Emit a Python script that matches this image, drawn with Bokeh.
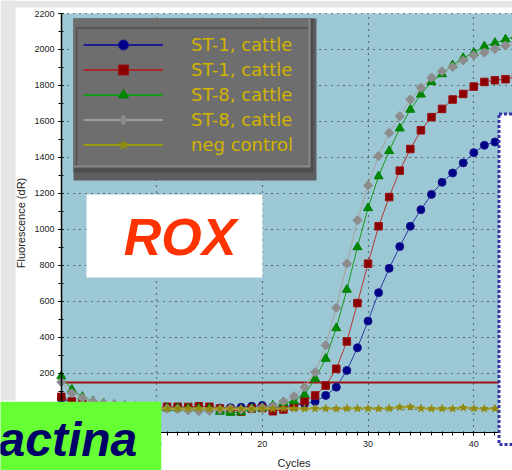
import numpy as np
from bokeh.plotting import figure
from bokeh.models import (Range1d, SingleIntervalTicker, Label, BoxAnnotation, Grid,
                          Legend, LegendItem, ColumnDataSource)
from bokeh.embed import file_html
from bokeh.resources import INLINE

# ---------------- data ----------------
cycles = list(range(1, 45))

st1_cattle_a = [60, 40, 30, 25, 20, 18, 15, 12, 10, 10,
                8, 8, 8, 6, 6, 8, 10, 12, 18, 22,
                15, 14, 24, 32, 44, 78, 124, 217, 343, 491,
                649, 784, 905, 1018, 1110, 1195, 1262, 1314, 1370, 1427,
                1468, 1486, 1510, 1530]

st1_cattle_b = [70, 45, 30, 22, 18, 15, 14, 12, 12, 12,
                15, 15, 14, 18, 15, 5, 0, -12, 5, 8,
                -10, 0, 18, 46, 78, 133, 226, 378, 591, 810,
                1018, 1180, 1327, 1447, 1551, 1624, 1670, 1722, 1753, 1794,
                1820, 1829, 1835, 1850]

st8_cattle_a = [185, 110, 70, 45, 35, 25, 20, 15, 12, 10,
                8, 8, 6, 5, 5, -12, -18, -15, 5, 10,
                22, 37, 46, 83, 171, 282, 452, 666, 902, 1119,
                1296, 1436, 1562, 1666, 1750, 1820, 1863, 1913, 1953, 1981,
                2018, 2037, 2056, 2074]

st8_cattle_b = [152, 91, 63, 45, 35, 28, 22, 18, 15, 12,
                5, 2, -5, -10, -8, 0, 5, 0, 2, 10,
                18, 44, 74, 124, 207, 356, 565, 810, 1051, 1245,
                1408, 1536, 1629, 1722, 1787, 1844, 1879, 1903, 1940, 1968,
                1983, 2003, 2022, 2040]

neg_control = [8, 6, 5, 5, 4, 4, 5, 4, 5, 4,
               5, 4, 5, 6, 4, 5, 4, 5, 4, 5,
               4, 6, 5, 4, 5, 5, 4, 6, 5, 5,
               4, 6, 12, 14, 6, 4, 5, 4, 9, 5,
               4, 5, 4, 5]

series_labels = ["ST-1, cattle", "ST-1, cattle", "ST-8, cattle", "ST-8, cattle", "neg control"]
threshold = 150
plot_x = (1.02, 43.66)     # visible x-axis extent (cycles)
plot_y = (-128, 2200)      # visible y-axis extent (dR)
y_label = "Fluorescence (dR)"
x_label = "Cycles"

# ---------------- canvas geometry ----------------
W, H = 512, 470
AX_L, AX_T, AX_B = 61, 13, 432            # pixel position of the plot area edges
PX_X = (W - AX_L) / (plot_x[1] - plot_x[0])
PX_Y = (AX_B - AX_T) / (plot_y[1] - plot_y[0])
x_range = (plot_x[0] - AX_L / PX_X, plot_x[1])
y_range = (plot_y[0] - (H - AX_B) / PX_Y, plot_y[1] + AX_T / PX_Y)


def X(px):
    return x_range[0] + px / PX_X


def Y(py):
    return y_range[1] - py / PX_Y


p = figure(width=W, height=H, x_range=Range1d(*x_range), y_range=Range1d(*y_range),
           output_backend="svg", toolbar_location=None,
           min_border_left=0, min_border_right=0, min_border_top=0, min_border_bottom=0,
           background_fill_color="white", border_fill_color="white",
           outline_line_color=None)

# slide background strips and the plot area
p.quad(left=[X(0)], right=[X(W)], top=[Y(0)], bottom=[Y(7)], fill_color="#e6e6e6",
       line_color=None, level="image")
p.quad(left=[X(0)], right=[X(15)], top=[Y(0)], bottom=[Y(400)], fill_color="#e6e6e6",
       line_color=None, level="image")
p.quad(left=[plot_x[0]], right=[plot_x[1]], top=[plot_y[1]], bottom=[plot_y[0]],
       fill_color="#9cc8d6", line_color=None, level="image")

# axes, drawn at fixed positions
p.xaxis.fixed_location = plot_y[0]
p.yaxis.fixed_location = plot_x[0]
p.xaxis.bounds = plot_x
p.yaxis.bounds = plot_y
p.xaxis.ticker = SingleIntervalTicker(interval=10, num_minor_ticks=10)
p.yaxis.ticker = SingleIntervalTicker(interval=200, num_minor_ticks=2)
p.axis.axis_line_color = "black"
p.axis.major_tick_line_color = "black"
p.axis.minor_tick_line_color = "black"
p.axis.major_label_text_font = "Liberation Sans"
p.axis.major_label_text_font_size = "9px"
p.axis.major_label_text_color = "#222222"
p.xaxis.major_tick_out = 3
p.xaxis.major_tick_in = 1
p.xaxis.minor_tick_out = 3
p.xaxis.minor_tick_in = 1
p.xaxis.major_label_standoff = 5
p.yaxis.major_tick_out = 3
p.yaxis.major_tick_in = 2
p.yaxis.minor_tick_out = 3
p.yaxis.minor_tick_in = 2
p.yaxis.axis_line_width = 1.5
p.yaxis.major_label_standoff = 4
p.yaxis.axis_label = y_label
p.yaxis.axis_label_text_font = "Liberation Sans"
p.yaxis.axis_label_text_font_size = "11px"
p.yaxis.axis_label_text_font_style = "normal"
p.yaxis.axis_label_text_color = "#222222"
p.yaxis.axis_label_standoff = 4

p.grid.grid_line_color = "#1a1a1a"
p.grid.grid_line_dash = "1 5"
p.grid.grid_line_width = 1.2
if "cross_bounds" in Grid.properties():
    p.xgrid.bounds = plot_x
    p.xgrid.cross_bounds = plot_y
    p.ygrid.bounds = plot_y
    p.ygrid.cross_bounds = plot_x
else:
    p.grid.visible = False
    gx = [v for v in range(10, 50, 10) if plot_x[0] < v < plot_x[1]]
    gy = [v for v in range(0, 2400, 200) if plot_y[0] < v <= plot_y[1]]
    p.segment(x0=gx, x1=gx, y0=[plot_y[0]] * len(gx), y1=[plot_y[1]] * len(gx),
              line_color="#1a1a1a", line_dash="1 5", line_width=1.2, level="underlay")
    p.segment(x0=[plot_x[0]] * len(gy), x1=[plot_x[1]] * len(gy), y0=gy, y1=gy,
              line_color="#1a1a1a", line_dash="1 5", line_width=1.2, level="underlay")

# legend panel (bevelled grey box) and ROX box
p.quad(left=[X(73)], right=[X(316)], top=[Y(18)], bottom=[Y(180)], fill_color="#5e5e5e", line_color=None)
p.quad(left=[X(73)], right=[X(313)], top=[Y(18)], bottom=[Y(172)], fill_color="#4f4f4f", line_color=None)
p.quad(left=[X(73)], right=[X(310)], top=[Y(18)], bottom=[Y(167)], fill_color="#8a8a8a", line_color=None)
p.quad(left=[X(73)], right=[X(308)], top=[Y(18)], bottom=[Y(165)], fill_color="#6e6e6e", line_color=None)
p.segment(x0=[X(76), X(76)], y0=[Y(27.5), Y(27.5)], x1=[X(308), X(76)], y1=[Y(27.5), Y(165)],
          line_color="#505050", line_width=1.5)
p.quad(left=[X(86)], right=[X(262)], top=[Y(194)], bottom=[Y(277)], fill_color="white", line_color=None)

# threshold line across the plot area
p.segment(x0=[plot_x[0]], x1=[plot_x[1]], y0=[threshold], y1=[threshold],
          line_color="#a01010", line_width=2)

styles = [
    dict(data=st1_cattle_a, marker="circle", size=8, angle=0.0, fill="#000088", edge="#1a1a8a",
         line="#2a3aa0", lw=1, lmarker="circle", lline="#1c1c96"),
    dict(data=st1_cattle_b, marker="square", size=7.5, angle=0.0, fill="#8b0000", edge="#9a1010",
         line="#b03838", lw=1, lmarker="square", lline="#a82828"),
    dict(data=st8_cattle_a, marker="triangle", size=9, angle=0.0, fill="#008800", edge="#008000",
         line="#1a9a1a", lw=1, lmarker="triangle", lline="#1a9a1a"),
    dict(data=st8_cattle_b, marker="square", size=6.5, angle=np.pi / 4, fill="#8c8c8c", edge="#8c8c8c",
         line="#a8a8a8", lw=1.2, lmarker="diamond", lline="#9c9c9c"),
    dict(data=neg_control, marker="star", size=8, angle=0.0, fill="#8f8a10", edge="#8f8a10",
         line="#a8a030", lw=2, lmarker="star", lline="#9a9a10"),
]

for st in styles:
    src = ColumnDataSource(dict(x=cycles, y=st["data"]))
    p.line("x", "y", source=src, line_color=st["line"], line_width=st["lw"])
    p.scatter("x", "y", source=src, marker=st["marker"], size=st["size"], angle=st["angle"],
              fill_color=st["fill"], line_color=st["edge"], line_width=1)

items = []
for st, name in zip(styles, series_labels):
    # legend-only proxies (no visible data point) so that legend symbols look like the original
    esrc = ColumnDataSource(dict(x=[float("nan")], y=[float("nan")]))
    lr = p.line("x", "y", source=esrc, line_color=st["lline"], line_width=2)
    sr = p.scatter("x", "y", source=esrc, marker=st["lmarker"], size=12,
                   fill_color=st["fill"], line_color=st["edge"])
    items.append(LegendItem(label=name, renderers=[lr, sr]))

legend = Legend(items=items, location=(83, H - 157), padding=0, margin=0, spacing=0,
                glyph_width=80, glyph_height=25, label_height=21, label_standoff=28,
                label_text_font="DejaVu Sans", label_text_font_size="18px",
                label_text_color="#d2b300", background_fill_alpha=0, border_line_color=None)
p.add_layout(legend)

# overlays
p.add_layout(BoxAnnotation(left=X(498.5), right=X(600), top=Y(113.5), bottom=Y(444),
                           fill_color="white", fill_alpha=1, line_color="#3535a5",
                           line_alpha=1, line_width=3, line_dash="3 2"))

p.add_layout(Label(x=X(179.5), y=Y(236), text="ROX", text_align="center",
                   text_baseline="alphabetic", text_font="Liberation Sans",
                   text_font_style="bold italic", text_font_size="52px", text_color="#ff3300"))

p.add_layout(Label(x=X(-14), y=Y(443.3), text="actina", text_align="left",
                   text_baseline="alphabetic", text_font="Liberation Sans",
                   text_font_style="bold italic", text_font_size="48px", text_color="#000066",
                   background_fill_color="#66ff33", background_fill_alpha=1,
                   padding=dict(top=11, right=24, bottom=20, left=12)))

p.add_layout(Label(x=X(293.5), y=Y(462.5), text=x_label, text_align="center",
                   text_baseline="alphabetic", text_font="Liberation Sans",
                   text_font_size="11px", text_color="#222222"))

open("out.html", "w").write(file_html(p, INLINE))
